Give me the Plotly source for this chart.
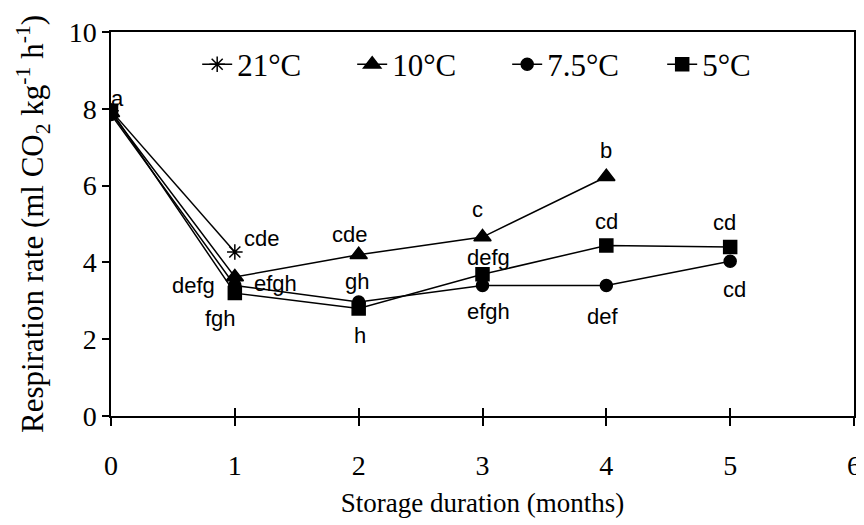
import plotly.graph_objects as go

months = [0, 1, 2, 3, 4, 5]
series_names = ["21°C", "10°C", "7.5°C", "5°C"]
x_21 = [0, 1]
y_21 = [7.95, 4.27]
x_10 = [0, 1, 2, 3, 4]
y_10 = [7.9, 3.62, 4.2, 4.66, 6.23]
x_75 = [0, 1, 2, 3, 4, 5]
y_75 = [7.85, 3.4, 2.97, 3.4, 3.4, 4.03]
x_5 = [0, 1, 2, 3, 4, 5]
y_5 = [7.95, 3.2, 2.8, 3.69, 4.44, 4.4]
x_ticks = [0, 1, 2, 3, 4, 5, 6]
y_ticks = [0, 2, 4, 6, 8, 10]
x_title = "Storage duration (months)"
y_title = "Respiration rate (ml CO<sub>2</sub> kg<sup>-1</sup> h<sup>-1</sup>)"

# letters: (series index, point index, text)
letters = [
    (3, 0, "a"),
    (0, 1, "cde"), (2, 1, "defg"), (2, 1, "efgh"), (3, 1, "fgh"),
    (1, 2, "cde"), (2, 2, "gh"), (3, 2, "h"),
    (1, 3, "c"), (3, 3, "defg"), (2, 3, "efgh"),
    (1, 4, "b"), (3, 4, "cd"), (2, 4, "def"),
    (3, 5, "cd"), (2, 5, "cd"),
]
letter_shifts = [
    (6, 12),
    (27, 14), (-41, 0), (41, 2), (-14, -25),
    (-9, 20), (-2, 20), (1, -27),
    (-5, 28), (6, 17), (6, -26),
    (0, 26), (0, 24), (-4, -31),
    (-6, 25), (4, -28),
]

xs = [x_21, x_10, x_75, x_5]
ys = [y_21, y_10, y_75, y_5]
symbols = ["asterisk-open", "triangle-up", "circle", "square"]
sizes = [13, 15, 12, 13]

fig = go.Figure()
for name, x, y, sym, sz in zip(series_names, xs, ys, symbols, sizes):
    fig.add_trace(go.Scatter(
        x=x, y=y, name=name, mode="lines+markers",
        line=dict(color="black", width=1.5),
        marker=dict(symbol=sym, size=sz, color="black",
                    line=dict(color="black", width=1.5)),
    ))

# helper trace on overlay axis (for inward half of crossing x ticks)
fig.add_trace(go.Scatter(x=months, y=y_5, xaxis="x2", mode="none",
                         showlegend=False, hoverinfo="skip"))

for (si, pi, txt), (dx, dy) in zip(letters, letter_shifts):
    fig.add_annotation(
        x=xs[si][pi], y=ys[si][pi], text=txt, showarrow=False,
        xshift=dx, yshift=dy,
        font=dict(family="Liberation Sans, Arial", size=22, color="black"),
    )

serif = "Liberation Serif, Times New Roman, serif"

# y-axis title as rotated annotation (placed further left than axis title allows)
fig.add_annotation(
    text=y_title, xref="paper", yref="paper", x=-0.105, y=0.5,
    xanchor="center", yanchor="middle", textangle=-90, showarrow=False,
    font=dict(family=serif, size=31, color="black"),
)

fig.update_layout(
    width=864, height=525,
    margin=dict(l=103, r=18, t=24, b=117, autoexpand=False),
    paper_bgcolor="white", plot_bgcolor="white",
    font=dict(family=serif, color="black"),
    showlegend=True,
    legend=dict(
        orientation="h", x=0.116, y=0.915, xanchor="left", yanchor="middle",
        font=dict(family=serif, size=31, color="black"),
        bgcolor="rgba(0,0,0,0)", entrywidth=110, entrywidthmode="pixels",
    ),
    xaxis=dict(
        range=[0, 6], tickmode="array", tickvals=x_ticks, automargin=False,
        showgrid=False, zeroline=False, showline=True, linecolor="black",
        linewidth=1.5, mirror=True, ticks="outside", ticklen=8,
        tickcolor="black", tickwidth=1.5, ticklabelstandoff=16,
        tickfont=dict(family=serif, size=28),
        title=dict(text=x_title, font=dict(family=serif, size=27),
                   standoff=13),
    ),
    xaxis2=dict(
        range=[0, 6], tickmode="array", tickvals=x_ticks, overlaying="x",
        side="bottom", anchor="y", automargin=False,
        showgrid=False, zeroline=False, showline=False, ticks="inside",
        ticklen=8, tickcolor="black", tickwidth=1.5, showticklabels=False,
    ),
    yaxis=dict(
        range=[0, 10], tickmode="array", tickvals=y_ticks, automargin=False,
        showgrid=False, zeroline=False, showline=True, linecolor="black",
        linewidth=1.5, mirror=True, ticks="outside", ticklen=7,
        tickcolor="black", tickwidth=1.5,
        tickfont=dict(family=serif, size=28),
    ),
)

fig.write_html("out.html")
